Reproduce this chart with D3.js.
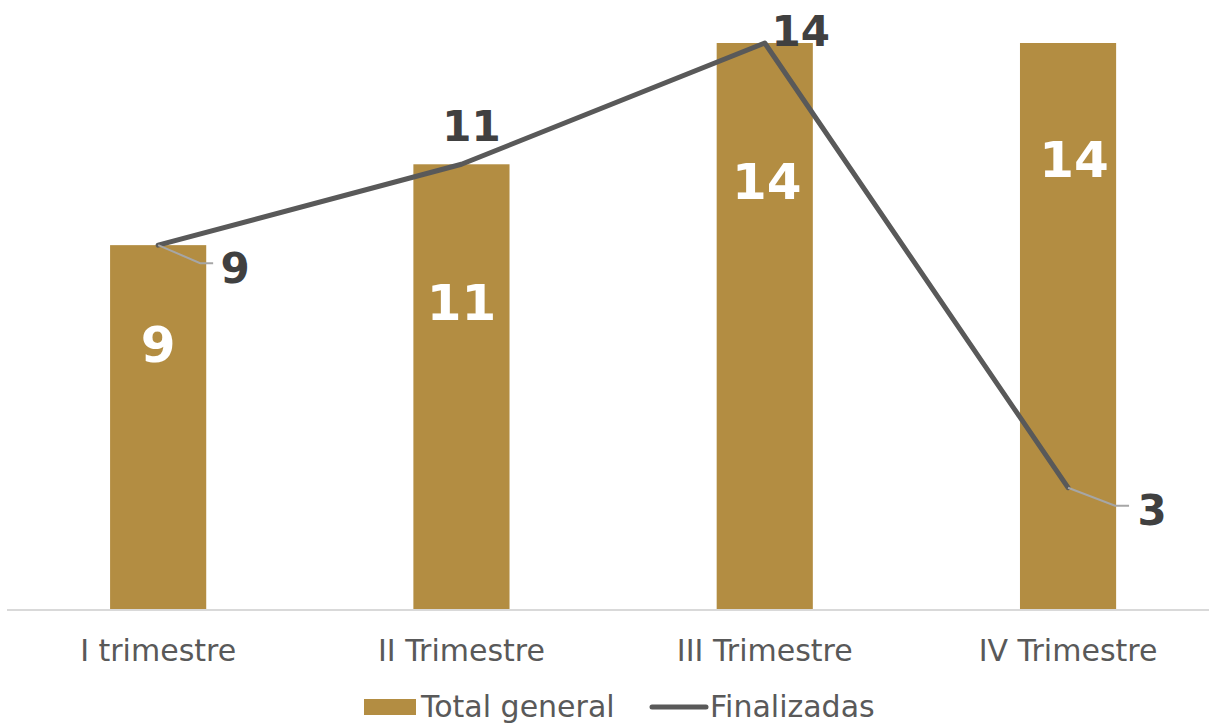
<!DOCTYPE html>
<html>
<head>
<meta charset="utf-8">
<script src="https://cdn.jsdelivr.net/npm/d3@7"></script>
<style>
  html, body { margin: 0; padding: 0; background: #fff; }
  svg { display: block; }
  text { font-family: "DejaVu Sans", Verdana, sans-serif; }
</style>
</head>
<body>
<svg id="chart" width="1209" height="725"></svg>
<script>
// ---- data ----
const categories = ["I trimestre", "II Trimestre", "III Trimestre", "IV Trimestre"];
const totalGeneral = [9, 11, 14, 14];
const finalizadas = [9, 11, 14, 3];
const seriesNames = ["Total general", "Finalizadas"];

// ---- layout (label placement, px) ----
const innerLabelDy = [117, 156, 156, 134];   // baseline below bar top
const innerLabelDx = [0, 0, 2, 6];
const outerLabelDx = [77, 10, 36, 84];        // label centre relative to point
const outerLabelDy = [38, -23, 3, 37];        // baseline relative to point
const leaderDx = [[42, 55], null, null, [47, 61]];
const leaderDy = [18, 0, 0, 18];

const barColor = "#B38D42";
const lineColor = "#595959";

const svg = d3.select("#chart");

const x = d3.scaleBand()
  .domain(categories)
  .range([6.5, 1219.7])
  .paddingInner(0.683)
  .paddingOuter(0.3415);

const y = d3.scaleLinear().domain([0, 14]).range([609, 43]);

// axis baseline
svg.append("line")
  .attr("x1", 7).attr("x2", 1209)
  .attr("y1", y(0) + 1).attr("y2", y(0) + 1)
  .attr("stroke", "#D9D9D9").attr("stroke-width", 2);

// x axis tick labels
const xAxis = d3.axisBottom(x).tickSize(0).tickPadding(0);
const gx = svg.append("g").attr("transform", `translate(0, ${y(0)})`).call(xAxis);
gx.select(".domain").remove();
gx.selectAll(".tick text")
  .attr("y", 52).attr("dy", null)
  .attr("fill", "#595959")
  .style("font-size", "30px")
  .style("font-family", '"DejaVu Sans", Verdana, sans-serif');

// bars
svg.append("g").selectAll("rect")
  .data(totalGeneral)
  .join("rect")
  .attr("x", (d, i) => x(categories[i]))
  .attr("y", d => y(d))
  .attr("width", x.bandwidth())
  .attr("height", d => y(0) - y(d))
  .attr("fill", barColor);

// bar labels (inside)
svg.append("g").selectAll("text")
  .data(totalGeneral)
  .join("text")
  .attr("x", (d, i) => x(categories[i]) + x.bandwidth() / 2 + innerLabelDx[i])
  .attr("y", (d, i) => y(d) + innerLabelDy[i])
  .attr("text-anchor", "middle")
  .attr("fill", "#FFFFFF")
  .style("font-size", "50px")
  .style("font-weight", "bold")
  .text(d => d);

// line
const cx = i => x(categories[i]) + x.bandwidth() / 2;
const line = d3.line().x((d, i) => cx(i)).y(d => y(d));
svg.append("path")
  .datum(finalizadas)
  .attr("d", line)
  .attr("fill", "none")
  .attr("stroke", lineColor)
  .attr("stroke-width", 5)
  .attr("stroke-linejoin", "round")
  .attr("stroke-linecap", "round");

// leader lines
finalizadas.forEach((d, i) => {
  if (!leaderDx[i]) return;
  const px = cx(i), py = y(d);
  svg.append("polyline")
    .attr("points", [[px, py], [px + leaderDx[i][0], py + leaderDy[i]], [px + leaderDx[i][1], py + leaderDy[i]]].map(p => p.join(",")).join(" "))
    .attr("fill", "none")
    .attr("stroke", "#A6A6A6")
    .attr("stroke-width", 2);
});

// line labels
svg.append("g").selectAll("text")
  .data(finalizadas)
  .join("text")
  .attr("x", (d, i) => cx(i) + outerLabelDx[i])
  .attr("y", (d, i) => y(d) + outerLabelDy[i])
  .attr("text-anchor", "middle")
  .attr("fill", "#404040")
  .style("font-size", "42px")
  .style("font-weight", "bold")
  .text(d => d);

// legend
const lg = svg.append("g");
lg.append("rect").attr("x", 364).attr("y", 699).attr("width", 52).attr("height", 16).attr("fill", barColor);
lg.append("text").attr("x", 421).attr("y", 717).attr("fill", "#595959").style("font-size", "30px").text(seriesNames[0]);
lg.append("line").attr("x1", 652).attr("x2", 706).attr("y1", 707).attr("y2", 707)
  .attr("stroke", lineColor).attr("stroke-width", 5).attr("stroke-linecap", "round");
lg.append("text").attr("x", 710).attr("y", 717).attr("fill", "#595959").style("font-size", "30px").text(seriesNames[1]);
</script>
</body>
</html>
